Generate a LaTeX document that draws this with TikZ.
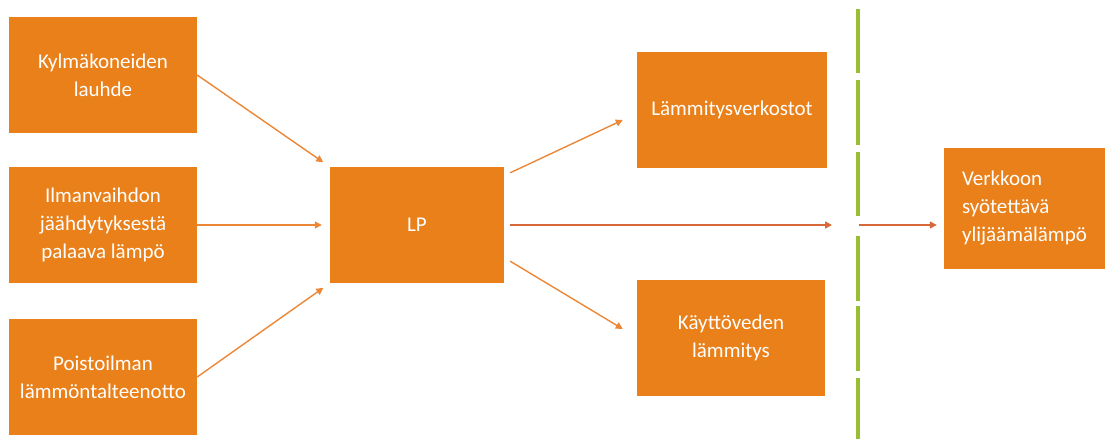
\documentclass[tikz,border=0pt]{standalone}
\usepackage{fontspec}
\setmainfont{Carlito}
\usetikzlibrary{arrows.meta,calc,positioning}
\definecolor{boxorange}{RGB}{233,128,26}
\definecolor{arrorange}{RGB}{235,135,55}
\definecolor{arrred}{RGB}{214,104,58}
\definecolor{grenslime}{RGB}{152,190,50}

\begin{document}
\begin{tikzpicture}[x=1pt,y=-1pt,
box/.style={rectangle,fill=boxorange,text=white,inner sep=0pt,minimum width=188pt,minimum height=116pt,align=center,font=\fontsize{21}{28}\selectfont},
arr/.style={draw=arrorange,line width=1.4pt,-{Triangle[length=7pt,width=7pt]}}]
\useasboundingbox (0,0) rectangle (1106,439);
\node[box] (kylma) at (103,75) {Kylmäkoneiden\\lauhde};
\node[box] (ilma) at (103,225) {Ilmanvaihdon\\jäähdytyksestä\\palaava lämpö};
\node[box] (poisto) at (103,377) {Poistoilman\\lämmöntalteenotto};
\node[box,minimum width=174pt] (lp) at (417,225) {LP};
\node[box,minimum width=190pt] (verkostot) at (732,110) {Lämmitysverkostot};
\node[box] (kaytto) at (731,338) {Käyttöveden\\lämmitys};
\node[box,minimum width=161pt,minimum height=121pt,inner xsep=18pt,text width=125pt,align=left] (ylijaama) at (1024.5,208) {Verkkoon\\syötettävä\\ylijäämälämpö};
\foreach \a/\b in {9/73,80/145,152/216,236/301,306/371,378/439}
  \draw[grenslime,line width=3.5pt] (858,\a) -- (858,\b);
\coordinate (grens) at (858,225);
\draw[arr,shorten >=8pt] (kylma.east) -- (lp.north west);
\draw[arr,shorten >=8pt] (ilma.east) -- (lp.west);
\draw[arr,shorten >=8pt] (poisto.east) -- (lp.south west);
\draw[arr] ([shift={(6,6)}]lp.north east) -- ([shift={(-14,10)}]verkostot.west);
\draw[arr] ([shift={(6,-22)}]lp.south east) -- ([shift={(-14,-9)}]kaytto.west);
\draw[arr,draw=arrred] ([xshift=6]lp.east) -- ([xshift=-26]grens);
\draw[arr,draw=arrred] ([xshift=1]grens) -- ([shift={(-7,17)}]ylijaama.west);
\end{tikzpicture}
\end{document}
